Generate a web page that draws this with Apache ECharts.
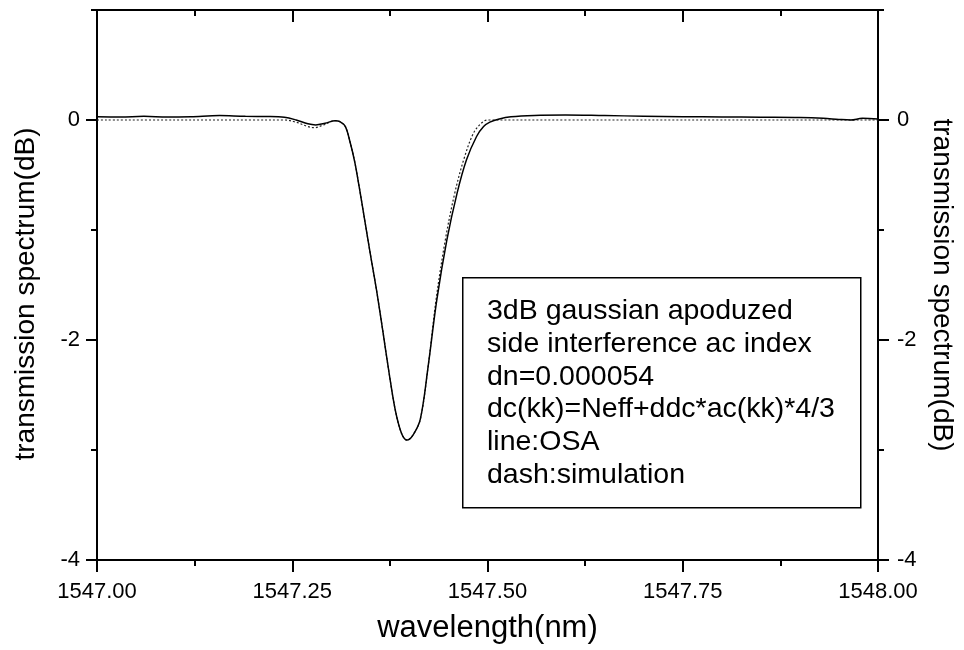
<!DOCTYPE html>
<html>
<head>
<meta charset="utf-8">
<script src="https://cdn.jsdelivr.net/npm/echarts@6/dist/echarts.min.js"></script>
<style>
html,body{margin:0;padding:0;background:#fff;}
#chart{width:964px;height:650px;}
</style>
</head>
<body>
<div id="chart"></div>
<script>
// wavelength (nm) and transmission (dB)
const osaWavelength = [1547.000,1547.030,1547.060,1547.090,1547.120,1547.157,1547.190,1547.220,1547.240,1547.255,1547.270,1547.280,1547.292,1547.305,1547.311,1547.318,1547.324,1547.330,1547.336,1547.343,1547.350,1547.358,1547.366,1547.374,1547.382,1547.390,1547.397,1547.405,1547.414,1547.424,1547.435,1547.448,1547.461,1547.473,1547.486,1547.495,1547.503,1547.515,1547.530,1547.560,1547.600,1547.650,1547.700,1547.750,1547.800,1547.850,1547.900,1547.930,1547.950,1547.965,1547.980,1548.000];
const osaTransmission = [0.030,0.028,0.033,0.027,0.030,0.040,0.033,0.032,0.025,0.000,-0.035,-0.045,-0.030,-0.006,-0.015,-0.060,-0.200,-0.380,-0.620,-0.920,-1.220,-1.550,-1.920,-2.300,-2.640,-2.850,-2.910,-2.860,-2.720,-2.240,-1.640,-1.090,-0.667,-0.364,-0.150,-0.060,-0.020,0.010,0.030,0.042,0.045,0.040,0.035,0.030,0.028,0.025,0.022,0.015,0.005,0.000,0.015,0.010];
const simWavelength = [1547.000,1547.100,1547.200,1547.240,1547.255,1547.268,1547.278,1547.290,1547.305,1547.311,1547.318,1547.324,1547.330,1547.336,1547.343,1547.350,1547.358,1547.366,1547.374,1547.382,1547.390,1547.397,1547.405,1547.414,1547.424,1547.434,1547.446,1547.458,1547.470,1547.482,1547.492,1547.500,1547.600,1547.800,1548.000];
const simTransmission = [0.0,0.0,0.0,0.0,-0.020,-0.055,-0.070,-0.045,-0.006,-0.015,-0.060,-0.200,-0.380,-0.620,-0.920,-1.220,-1.550,-1.920,-2.300,-2.640,-2.850,-2.910,-2.860,-2.720,-2.240,-1.640,-1.090,-0.667,-0.350,-0.120,-0.030,0.0,0.0,0.0,0.0];
const yMajorTicks = [-4,-2,0];
const yMinorTicks = [-3,-1,1];
const noteLines = ['3dB gaussian apoduzed','side interference ac index','dn=0.000054','dc(kk)=Neff+ddc*ac(kk)*4/3','line:OSA','dash:simulation'];
const xTitle = 'wavelength(nm)';
const yTitle = 'transmission spectrum(dB)';

const FONT = '"Liberation Sans", Arial, sans-serif';
const zip = (a,b) => a.map((v,i)=>[v,b[i]]);
const lineStyle = {color:'#000', width:2};

const chart = echarts.init(document.getElementById('chart'), null, {renderer:'canvas'});
chart.setOption({
  animation:false,
  backgroundColor:'#fff',
  grid:{left:97, right:86, top:10, bottom:90, containLabel:false},
  xAxis:[
    {type:'value', position:'bottom', min:1547, max:1548, interval:0.25,
     axisLine:{show:true, onZero:false, lineStyle},
     axisTick:{show:true, inside:false, length:12, lineStyle},
     minorTick:{show:true, splitNumber:2, length:6, lineStyle},
     splitLine:{show:false}, minorSplitLine:{show:false},
     axisLabel:{show:true, margin:21, color:'#000', fontSize:22, fontFamily:FONT, formatter:v=>v.toFixed(2)},
     name:xTitle, nameLocation:'middle', nameGap:53,
     nameTextStyle:{color:'#000', fontSize:31, fontFamily:FONT}},
    {type:'value', position:'top', min:1547, max:1548, interval:0.25,
     axisLine:{show:true, onZero:false, lineStyle},
     axisTick:{show:true, inside:true, length:12, lineStyle},
     minorTick:{show:true, splitNumber:2, length:6, lineStyle},
     splitLine:{show:false}, axisLabel:{show:false}}
  ],
  yAxis:[
    {type:'value', position:'left', min:-4, max:1, interval:2,
     axisLine:{show:true, onZero:false, lineStyle},
     axisTick:{show:true, inside:false, length:11, lineStyle, customValues:yMajorTicks},
     splitLine:{show:false},
     axisLabel:{show:true, margin:17, color:'#000', fontSize:22, fontFamily:FONT, customValues:yMajorTicks, formatter:v=>(v===1?'':String(v))},
     name:yTitle, nameLocation:'middle', nameGap:57, nameRotate:90,
     nameTextStyle:{color:'#000', fontSize:28, fontFamily:FONT, padding:[0,18,0,0]}},
    {type:'value', position:'right', min:-4, max:1, interval:2,
     axisLine:{show:true, onZero:false, lineStyle},
     axisTick:{show:true, inside:false, length:11, lineStyle, customValues:yMajorTicks},
     splitLine:{show:false},
     axisLabel:{show:true, margin:19, color:'#000', fontSize:22, fontFamily:FONT, customValues:yMajorTicks, formatter:v=>(v===1?'':String(v))},
     name:yTitle, nameLocation:'middle', nameGap:43, nameRotate:-90,
     nameTextStyle:{color:'#000', fontSize:28, fontFamily:FONT}},
    {type:'value', position:'left', min:-4, max:1, interval:1,
     axisLine:{show:false, onZero:false}, splitLine:{show:false}, axisLabel:{show:false},
     axisTick:{show:true, inside:false, length:6, lineStyle, customValues:yMinorTicks}},
    {type:'value', position:'right', min:-4, max:1, interval:1,
     axisLine:{show:false, onZero:false}, splitLine:{show:false}, axisLabel:{show:false},
     axisTick:{show:true, inside:false, length:6, lineStyle, customValues:yMinorTicks}}
  ],
  series:[
    {name:'OSA', type:'line', xAxisIndex:0, yAxisIndex:0, data:zip(osaWavelength, osaTransmission),
     showSymbol:false, smooth:0.35, lineStyle:{color:'#000', width:1.5}, z:3},
    {name:'simulation', type:'line', xAxisIndex:0, yAxisIndex:0, data:zip(simWavelength, simTransmission),
     showSymbol:false, smooth:0.35, lineStyle:{color:'#222', width:1.2, type:[2,2]}, z:2}
  ],
  graphic:[
    {type:'rect', left:462, top:277, shape:{width:398, height:230},
     style:{fill:'#fff', stroke:'#000', lineWidth:1.5}, z:10},
    {type:'text', left:487, top:295, z:11,
     style:{text:noteLines.join('\n'), fill:'#000', font:'28.5px ' + FONT, lineHeight:32.7}}
  ]
});
</script>
</body>
</html>
